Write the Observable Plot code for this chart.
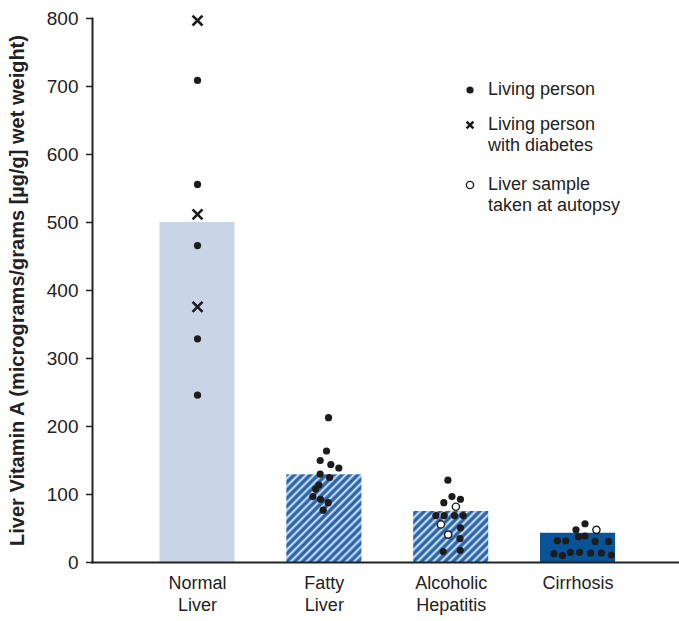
<!DOCTYPE html>
<html>
<head>
<meta charset="utf-8">
<script src="https://cdn.jsdelivr.net/npm/d3@7"></script>
<script src="https://cdn.jsdelivr.net/npm/@observablehq/plot@0.6"></script>
<style>
  body { margin: 0; background: #fff; }
  #wrap { position: relative; width: 679px; height: 621px; font-family: "Liberation Sans", Arial, Helvetica, sans-serif; }
  #legend { position: absolute; left: 460px; top: 79px; font-size: 18px; line-height: 21px; color: #222; }
  #legend .row { display: flex; align-items: flex-start; }
  #legend svg { flex: none; width: 28px; height: 21px; }
</style>
</head>
<body>
<div id="wrap"></div>
<script>
// ---- data ----
const categories = ["Normal\nLiver", "Fatty\nLiver", "Alcoholic\nHepatitis", "Cirrhosis"];
const barMeans = [500, 129, 75, 43];
const yTicks = [0, 100, 200, 300, 400, 500, 600, 700, 800];
const yLabel = "Liver Vitamin A (micrograms/grams [µg/g] wet weight)";

// kinds: L = living person, D = living person with diabetes, A = autopsy sample
const normalValues = [797, 709, 556, 512, 466, 376, 329, 246];
const normalJitter = [0, 0, 0, 0, 0, 0, 0, 0];
const normalKinds  = ["D", "L", "L", "D", "L", "D", "L", "L"];

const fattyValues = [213, 164, 150, 144, 139, 130, 125, 114, 108, 97, 93, 88, 77];
const fattyJitter = [0.033, 0.017, -0.033, 0.051, 0.114, -0.033, 0.041, -0.043, -0.069, -0.091, -0.030, 0.030, -0.009];
const fattyKinds  = ["L", "L", "L", "L", "L", "L", "L", "L", "L", "L", "L", "L", "L"];

const hepValues = [121, 97, 88, 93, 82, 69, 69, 69, 69, 56, 51, 41, 35, 18, 16];
const hepJitter = [-0.026, 0.006, -0.058, 0.073, 0.037, -0.121, -0.055, 0.026, 0.095, -0.081, 0.073, -0.024, 0.069, 0.071, -0.063];
const hepKinds  = ["L", "L", "L", "L", "A", "L", "L", "L", "L", "A", "L", "A", "L", "L", "L"];

const cirrValues = [57, 48, 48, 38, 39, 32, 32, 31, 31, 13, 10, 15, 15, 14, 14, 11];
const cirrJitter = [0.055, -0.016, 0.145, 0.003, 0.055, -0.163, -0.097, 0.134, 0.241, -0.19, -0.123, -0.06, 0.013, 0.1, 0.184, 0.263];
const cirrKinds  = ["L", "L", "A", "L", "L", "L", "L", "L", "L", "L", "L", "L", "L", "L", "L", "L"];

const barFills = ["#cad4e7", "url(#stripes)", "url(#stripes)", "#0a5396"];

// ---- build tables ----
const bars = categories.map((c, i) => ({cat: c, k: i + 1, value: barMeans[i]}));
const groups = [
  [normalValues, normalJitter, normalKinds],
  [fattyValues, fattyJitter, fattyKinds],
  [hepValues, hepJitter, hepKinds],
  [cirrValues, cirrJitter, cirrKinds]
];
const points = groups.flatMap(([vals, jit, kinds], gi) =>
  vals.map((v, i) => ({x: gi + 1 + jit[i], y: v, kind: kinds[i]})));

const halfBar = 0.296;
const ink = "#1c1c1c";

const chart = Plot.plot({
  width: 679,
  height: 621,
  marginLeft: 92,
  marginRight: 0,
  marginTop: 18,
  marginBottom: 59,
  style: {fontFamily: "'Liberation Sans', Arial, Helvetica, sans-serif", color: "#222", background: "#fff"},
  x: {type: "linear", domain: [0.172, 4.80], axis: null},
  y: {domain: [0, 800], axis: null},
  color: {type: "ordinal", domain: categories, range: barFills},
  marks: [
    Plot.rectY(bars, {x1: d => d.k - halfBar, x2: d => d.k + halfBar, y: "value", fill: "cat"}),
    Plot.dot(points.filter(d => d.kind === "L"), {x: "x", y: "y", r: 3.6, fill: ink}),
    Plot.dot(points.filter(d => d.kind === "A"), {x: "x", y: "y", r: 3.6, fill: "#fff", stroke: ink, strokeWidth: 1.4}),
    Plot.dot(points.filter(d => d.kind === "D"), {x: "x", y: "y", symbol: "times", r: 4.6, stroke: ink, strokeWidth: 2.6}),
    Plot.axisY({ticks: yTicks, tickSize: 6, tickPadding: 8, fontSize: 19, label: null, stroke: "#222", strokeWidth: 1.5}),
    Plot.frame({anchor: "left", stroke: "#222", strokeWidth: 2}),
    Plot.frame({anchor: "bottom", stroke: "#222", strokeWidth: 2}),
    Plot.text([yLabel], {frameAnchor: "left", textAnchor: "middle", rotate: -90, dx: -75, fontSize: 20, fontWeight: "bold", fill: "#222"}),
    Plot.text(categories, {x: (d, i) => i + 1, text: d => d, frameAnchor: "bottom", lineAnchor: "top", dy: 11, fontSize: 18, lineHeight: 1.22, fill: "#222"})
  ]
});

// stripe pattern definition
const svgNS = "http://www.w3.org/2000/svg";
const defs = document.createElementNS(svgNS, "defs");
defs.innerHTML = `
  <linearGradient id="stripeGrad" x1="0" x2="1" y1="0" y2="0">
    <stop offset="0" stop-color="#1a59a0"/>
    <stop offset="0.35" stop-color="#2f6db4"/>
    <stop offset="0.6" stop-color="#eef3fa"/>
    <stop offset="0.8" stop-color="#7ea6d6"/>
    <stop offset="1" stop-color="#1a59a0"/>
  </linearGradient>
  <pattern id="stripes" patternUnits="userSpaceOnUse" width="5.6" height="10" patternTransform="rotate(45)">
    <rect width="5.6" height="10" fill="url(#stripeGrad)"/>
  </pattern>`;
chart.insertBefore(defs, chart.firstChild);

const wrap = document.getElementById("wrap");
wrap.appendChild(chart);

// legend
const legend = document.createElement("div");
legend.id = "legend";
legend.innerHTML = `
  <div class="row" style="margin-bottom:14px"><svg><circle cx="10" cy="11" r="3.6" fill="${ink}"/></svg><span>Living person</span></div>
  <div class="row" style="margin-bottom:18px"><svg><path d="M6.6,7.6L13.4,14.4M13.4,7.6L6.6,14.4" stroke="${ink}" stroke-width="2.6"/></svg><span>Living person<br>with diabetes</span></div>
  <div class="row"><svg><circle cx="10" cy="11" r="3.6" fill="#fff" stroke="${ink}" stroke-width="1.4"/></svg><span>Liver sample<br>taken at autopsy</span></div>`;
wrap.appendChild(legend);
</script>
</body>
</html>
